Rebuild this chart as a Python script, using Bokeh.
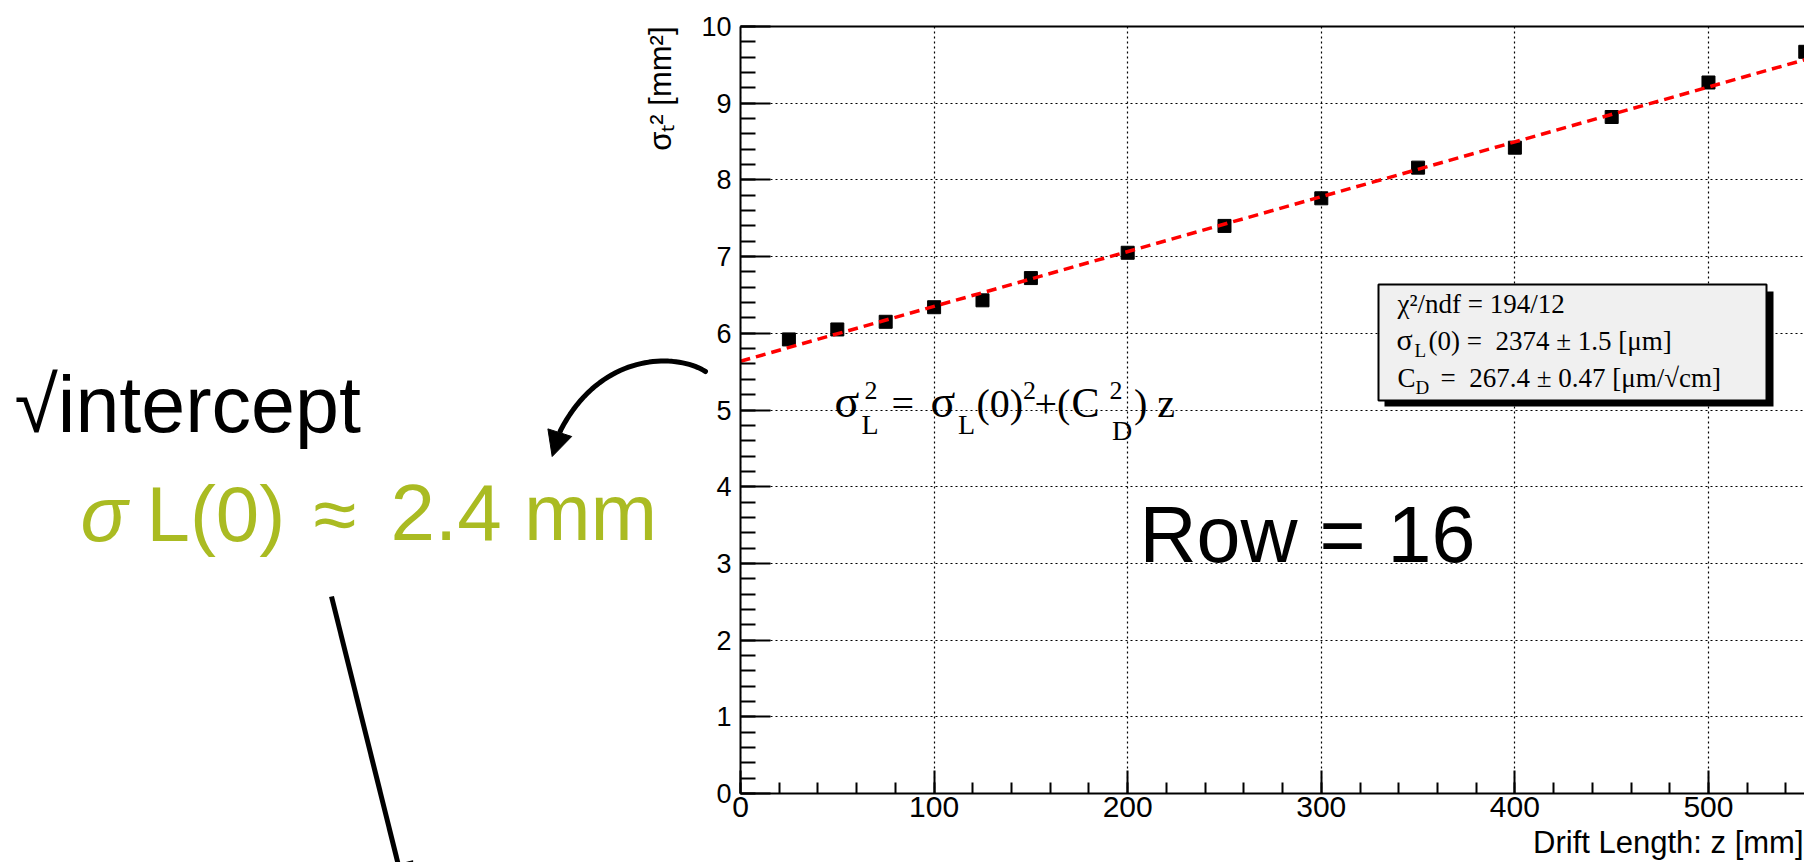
import math
from bokeh.plotting import figure
from bokeh.models import (Range1d, LinearAxis, Label, BoxAnnotation, Arrow, NormalHead,
                          PolyAnnotation, SingleIntervalTicker, FixedTicker, Grid)
from bokeh.embed import file_html
from bokeh.resources import INLINE

# ---------------- data ----------------
drift_z = [25, 50, 75, 100, 125, 150, 200, 250, 300, 350, 400, 450, 500, 550]
sigma2 = [5.92, 6.05, 6.15, 6.34, 6.43, 6.72, 7.05, 7.40, 7.76, 8.16, 8.42, 8.82, 9.27, 9.67]
fit_z = [0, 600]
fit_sigma2 = [5.636, 9.926]
x_ticks_interval = 100
y_ticks_interval = 1
x_axis_title = "Drift Length: z [mm]"
y_axis_title = "σₜ² [mm²]"

stat_line1 = "χ²/ndf = 194/12"
stat_line2 = "(0) =\u00a0 2374 ± 1.5 [μm]"
stat_line3 = "=\u00a0 267.4 ± 0.47 [μm/√cm]"

# ---------------- layout ----------------
W, H = 1804, 862
FL, FR, FT, FB = 740, 1804, 26, 793      # where the chart's axes box sits
X_MAX, Y_MAX = 549.6, 10.0
SX = X_MAX / (FR - FL)
SY = Y_MAX / (FB - FT)


def dx(px):
    return (px - FL) * SX


def dy(py):
    return (FB - py) * SY


p = figure(width=W, height=H,
           x_range=Range1d(dx(0), dx(W)), y_range=Range1d(dy(H), dy(0)),
           x_axis_type=None, y_axis_type=None,
           output_backend="svg", toolbar_location=None,
           min_border=0, min_border_left=0, min_border_right=0,
           min_border_top=0, min_border_bottom=0,
           outline_line_color=None,
           background_fill_color="white", border_fill_color="white")

xt = SingleIntervalTicker(interval=x_ticks_interval, num_minor_ticks=5)
yt = SingleIntervalTicker(interval=y_ticks_interval, num_minor_ticks=5)

# grids
gx = Grid(dimension=0, ticker=xt, bounds=(0, 600))
gy = Grid(dimension=1, ticker=yt, bounds=(0, Y_MAX))
if "cross_bounds" in Grid.properties():
    gx.cross_bounds = (0, Y_MAX)
    gy.cross_bounds = (0, 600)
for g in (gx, gy):
    g.grid_line_color = "black"
    g.grid_line_dash = "2 3"
    g.grid_line_width = 1.2
    p.add_layout(g)

# hide grid outside the axes box
for kw in (dict(right=0), dict(top=0), dict(bottom=Y_MAX)):
    p.add_layout(BoxAnnotation(fill_color="white", fill_alpha=1, line_color=None,
                               level="underlay", **kw))

xaxis = LinearAxis(ticker=xt, fixed_location=0, bounds=(0, 600))
yaxis = LinearAxis(ticker=yt, fixed_location=0, bounds=(0, Y_MAX))
for ax in (xaxis, yaxis):
    ax.axis_line_width = 2
    ax.axis_line_color = "black"
    ax.major_tick_line_width = 2
    ax.minor_tick_line_width = 2
    ax.major_tick_line_color = "black"
    ax.minor_tick_line_color = "black"
    ax.major_tick_out = 0
    ax.minor_tick_out = 0
    ax.major_label_text_font = "Liberation Sans"
    ax.major_label_text_color = "black"
xaxis.major_label_text_font_size = "30px"
xaxis.major_tick_in = 23
xaxis.minor_tick_in = 11
xaxis.major_label_standoff = 3
yaxis.major_label_text_font_size = "27px"
yaxis.major_tick_in = 30
yaxis.minor_tick_in = 15
yaxis.major_label_standoff = 9
p.add_layout(xaxis, "below")
p.add_layout(yaxis, "left")

top_axis = LinearAxis(ticker=FixedTicker(ticks=[]), fixed_location=Y_MAX, bounds=(0, 600),
                      axis_line_width=2, axis_line_color="black",
                      major_tick_in=0, major_tick_out=0, minor_tick_in=0, minor_tick_out=0)
p.add_layout(top_axis, "above")

# data + fit
p.scatter(drift_z, sigma2, marker="square", size=13, color="black")
p.line(fit_z, fit_sigma2, line_color="red", line_width=3.5, line_dash="10 6")

BASE_SHIFT = 0.37   # empirical: label anchor vs. alphabetic baseline


def add_text(px, py, text, size, color="black", font="Liberation Sans", style="normal",
             align="left", angle=0.0, baseline="alphabetic", shift=True):
    yy = py - BASE_SHIFT * size if (shift and baseline == "alphabetic") else py
    p.add_layout(Label(x=dx(px), y=dy(yy), text=text, text_font=font,
                       text_font_size=f"{size}px", text_color=color,
                       text_font_style=style, text_align=align,
                       text_baseline=baseline, angle=angle))


# axis titles
add_text(660, 26, y_axis_title, 31, align="right", baseline="middle", angle=math.pi / 2)
add_text(1803, 853, x_axis_title, 31, align="right")

# stats box with shadow
p.add_layout(BoxAnnotation(left=dx(1384), right=dx(1773), top=dy(291), bottom=dy(406),
                           fill_color="black", fill_alpha=1, line_color=None))
p.add_layout(BoxAnnotation(left=dx(1378), right=dx(1766), top=dy(284), bottom=dy(400),
                           fill_color="#f0f0f0", fill_alpha=1, line_color="black",
                           line_alpha=1, line_width=2))
SERIF = "Liberation Serif"
add_text(1397, 313, stat_line1, 27, font=SERIF)
add_text(1396, 350, "σ", 30, font=SERIF)
add_text(1414, 357, "L", 19, font=SERIF)
add_text(1428, 350, stat_line2, 27, font=SERIF)
add_text(1397, 387, "C", 27, font=SERIF)
add_text(1415, 394, "D", 19, font=SERIF)
add_text(1440, 387, stat_line3, 27, font=SERIF)

# formula
add_text(834, 418, "σ", 46, font=SERIF)
add_text(864, 400, "2", 26, font=SERIF)
add_text(861, 434, "L", 28, font=SERIF)
add_text(891, 418, "=", 40, font=SERIF)
add_text(930, 418, "σ", 46, font=SERIF)
add_text(957.5, 434, "L", 28, font=SERIF)
add_text(976, 418, "(0)", 40, font=SERIF)
add_text(1022.5, 400, "2", 26, font=SERIF)
add_text(1034, 418, "+(", 40, font=SERIF)
add_text(1071, 418, "C", 42, font=SERIF)
add_text(1109, 400, "2", 26, font=SERIF)
add_text(1111.5, 440, "D", 28, font=SERIF)
add_text(1133.5, 418, ") z", 40, font=SERIF)

# Row label
add_text(1139, 563, "Row = 16", 79)

# left annotations
add_text(14, 433, "√intercept", 79)
GREEN = "#aabb22"
add_text(80, 542, "σ", 78, color=GREEN, style="italic")
add_text(146, 542, "L(0)", 78, color=GREEN)
add_text(313, 542, "≈", 78, color=GREEN)
add_text(390, 542, "2.4 mm", 80, color=GREEN)

# curved arrow (cubic bezier traced as an open stroke)
P = [(705, 371), (675, 352), (600, 352), (560, 430)]
pts = []
for i in range(41):
    t = i / 40
    a, b, c, d = (1 - t) ** 3, 3 * (1 - t) ** 2 * t, 3 * (1 - t) * t ** 2, t ** 3
    pts.append((a * P[0][0] + b * P[1][0] + c * P[2][0] + d * P[3][0],
                a * P[0][1] + b * P[1][1] + c * P[2][1] + d * P[3][1]))
path = pts + pts[::-1]
p.add_layout(PolyAnnotation(xs=[dx(q[0]) for q in path], ys=[dy(q[1]) for q in path],
                            fill_alpha=0, line_color="black", line_alpha=1, line_width=5,
                            line_join="round"))
p.add_layout(Arrow(x_start=dx(560), y_start=dy(430), x_end=dx(551.7), y_end=dy(456),
                   line_width=5, line_color="black", line_alpha=1,
                   end=NormalHead(size=25, fill_color="black", line_color="black",
                                  fill_alpha=1, line_alpha=1)))

# straight arrow going off the bottom
p.add_layout(Arrow(x_start=dx(331), y_start=dy(596), x_end=dx(405), y_end=dy(893),
                   line_width=5, line_color="black", line_alpha=1,
                   end=NormalHead(size=30, fill_color="black", line_color="black",
                                  fill_alpha=1, line_alpha=1)))

open("out.html", "w").write(file_html(p, INLINE))
